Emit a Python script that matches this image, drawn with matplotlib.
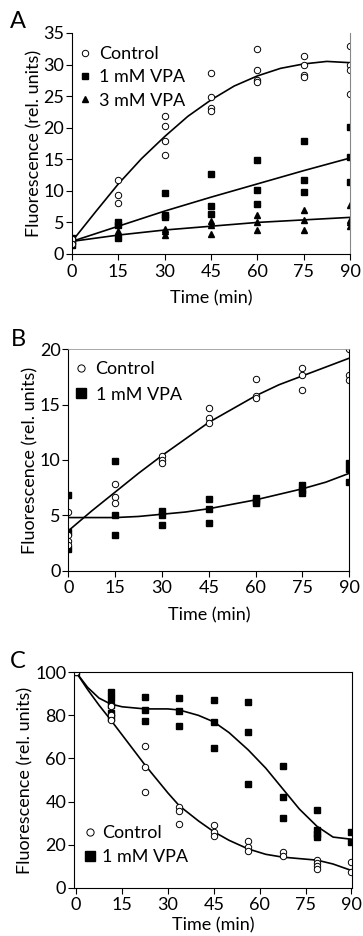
import matplotlib
matplotlib.use('Agg')
import matplotlib.pyplot as plt
from matplotlib.lines import Line2D
import numpy as np

plt.rcParams['font.family'] = ['Lato', 'DejaVu Sans']
plt.rcParams['font.size'] = 13

# ---------------- Panel A ----------------
a_ctrl_t = [0, 0, 0, 15, 15, 15, 30, 30, 30, 30, 45, 45, 45, 45, 60, 60, 60, 60, 75, 75, 75, 75, 90, 90, 90, 90]
a_ctrl_y = [2.0, 2.4, 1.6, 11.7, 9.3, 8.0, 21.9, 20.3, 17.9, 15.6, 28.6, 24.8, 23.1, 22.6,
            32.4, 29.1, 27.5, 27.2, 31.4, 29.9, 28.4, 28.0, 32.9, 30.0, 29.2, 25.3]
a_vpa1_t = [0, 0, 0, 15, 15, 15, 30, 30, 30, 45, 45, 45, 60, 60, 60, 75, 75, 75, 90, 90, 90]
a_vpa1_y = [2.6, 2.0, 1.4, 5.0, 4.6, 2.6, 9.7, 6.2, 5.8, 12.7, 7.6, 6.4, 14.9, 10.1, 7.9,
            17.9, 11.7, 9.8, 20.1, 15.3, 11.4]
a_vpa3_t = [0, 0, 15, 15, 30, 30, 30, 45, 45, 45, 60, 60, 60, 75, 75, 75, 90, 90, 90, 90]
a_vpa3_y = [2.2, 1.8, 3.6, 2.8, 4.0, 3.6, 3.0, 5.2, 4.6, 3.2, 6.2, 5.0, 3.8, 7.0, 5.4, 3.8,
            7.8, 5.4, 5.0, 4.5]

a_fit_ctrl_t = [0, 7.5, 15, 22.5, 30, 37.5, 45, 52.5, 60, 67.5, 75, 82.5, 90]
a_fit_ctrl_y = [2.0, 6.6, 11.1, 15.1, 18.6, 21.8, 24.4, 26.6, 28.2, 29.4, 30.1, 30.5, 30.3]
a_fit_vpa_t = [0, 15, 30, 45, 60, 75, 90]
a_fit_vpa1_y = [2.0, 4.4, 6.8, 9.0, 11.1, 13.2, 15.2]
a_fit_vpa3_y = [2.0, 3.0, 3.8, 4.4, 5.0, 5.4, 5.8]

# ---------------- Panel B ----------------
b_ctrl_t = [0, 0, 0, 0, 15, 15, 15, 30, 30, 30, 45, 45, 45, 60, 60, 60, 75, 75, 75, 90, 90, 90]
b_ctrl_y = [5.3, 3.2, 2.7, 2.3, 7.8, 6.7, 6.1, 10.4, 10.0, 9.7, 14.7, 13.8, 13.3,
            17.3, 15.8, 15.6, 18.3, 17.7, 16.3, 20.0, 17.7, 17.2]
b_vpa_t = [0, 0, 0, 15, 15, 15, 30, 30, 30, 45, 45, 45, 60, 60, 60, 75, 75, 75, 90, 90, 90]
b_vpa_y = [6.8, 3.5, 2.0, 9.9, 5.0, 3.2, 5.4, 5.0, 4.1, 6.5, 5.6, 4.3, 6.6, 6.3, 6.1,
           7.7, 7.3, 7.0, 9.7, 9.2, 8.0]

b_fit_ctrl_t = [0, 7.5, 15, 22.5, 30, 37.5, 45, 52.5, 60, 67.5, 75, 82.5, 90]
b_fit_ctrl_y = [3.6, 5.4, 7.1, 8.8, 10.4, 11.9, 13.4, 14.6, 15.8, 16.8, 17.6, 18.4, 19.2]
b_fit_vpa_t = [0, 7.5, 15, 22.5, 30, 37.5, 45, 52.5, 60, 67.5, 75, 82.5, 90]
b_fit_vpa_y = [4.8, 4.8, 4.8, 4.9, 5.1, 5.3, 5.6, 6.0, 6.4, 6.9, 7.4, 8.0, 8.8]

# ---------------- Panel C ----------------
c_ctrl_t = [0, 11.25, 11.25, 11.25, 22.5, 22.5, 22.5, 33.75, 33.75, 33.75, 45, 45, 45,
            56.25, 56.25, 56.25, 67.5, 67.5, 78.75, 78.75, 78.75, 78.75, 90, 90]
c_ctrl_y = [100, 84.5, 80, 78, 66, 56, 44.5, 37.5, 35.5, 29.5, 29, 26, 24,
            21.5, 19, 17, 16.5, 14.5, 13, 11.5, 10, 8.5, 12, 7.5]
c_vpa_t = [0, 11.25, 11.25, 11.25, 11.25, 11.25, 22.5, 22.5, 22.5, 33.75, 33.75, 33.75,
           45, 45, 45, 56.25, 56.25, 56.25, 67.5, 67.5, 67.5, 78.75, 78.75, 78.75, 78.75, 90, 90]
c_vpa_y = [100, 91, 88, 85, 81, 79, 88.5, 82.5, 77.5, 88, 82, 75,
           87, 77, 65, 86, 72.5, 48, 56.5, 42, 32.5, 36, 27, 25, 23.5, 26, 21]

c_fit_t = [0, 3.75, 7.5, 11.25, 15, 22.5, 30, 33.75, 40, 45, 50, 56.25, 62, 67.5, 73, 78.75, 84, 90]
c_fit_ctrl_y = [100, 92, 84.7, 78, 71, 57, 44, 38, 31, 26, 22, 18, 15.5, 14.2, 13.5, 12.8, 11, 8]
c_fit_vpa_y = [100, 93, 88, 85.3, 84, 83, 83, 82.5, 80, 77, 72, 64, 55.5, 46, 36.5, 28.5, 23.5, 22.5]

xticks = [0, 15, 30, 45, 60, 75, 90]

fig = plt.figure(figsize=(3.63, 9.36), dpi=100)
W, H = 363.0, 936.0


def make_ax(left, right, top, bottom):
    return fig.add_axes([left / W, 1 - bottom / H, (right - left) / W, (bottom - top) / H])


def style(ax, xpad=7.5):
    ax.set_xticks(xticks)
    ax.tick_params(direction='out', length=4, width=0.8, pad=1.5, labelsize=13)
    ax.tick_params(axis='x', pad=3)
    ax.set_xlabel('Time (min)', fontsize=13, labelpad=xpad)
    ax.set_ylabel('Fluorescence (rel. units)', fontsize=13, labelpad=1)
    for s in ax.spines.values():
        s.set_linewidth(0.8)


circ = dict(marker='o', mfc='white', mec='black', mew=0.7, ms=4.6, ls='none')
sq = dict(marker='s', color='black', ms=5.0, ls='none')
tri = dict(marker='^', color='black', ms=5.0, ls='none')
lw = 1.2

# Panel A
ax1 = make_ax(72, 350, 33, 254)
ax1.plot(a_fit_ctrl_t, a_fit_ctrl_y, color='k', lw=lw)
ax1.plot(a_fit_vpa_t, a_fit_vpa1_y, color='k', lw=lw)
ax1.plot(a_fit_vpa_t, a_fit_vpa3_y, color='k', lw=lw)
ax1.plot(a_vpa3_t, a_vpa3_y, **tri)
ax1.plot(a_vpa1_t, a_vpa1_y, **sq)
ax1.plot(a_ctrl_t, a_ctrl_y, **circ)
ax1.set_xlim(0, 90)
ax1.set_ylim(0, 35)
ax1.set_yticks(range(0, 36, 5))
style(ax1)
ax1.spines['top'].set_visible(False)
ax1.spines['right'].set_color('#888888')
h1 = [Line2D([], [], **circ), Line2D([], [], **sq), Line2D([], [], **tri)]
ax1.legend(h1, ['Control', '1 mM VPA', '3 mM VPA'], loc='upper left', bbox_to_anchor=(0.024, 0.94),
           frameon=False, borderaxespad=0, borderpad=0, handlelength=0.7, handletextpad=0.45,
           labelspacing=0.4, fontsize=13)

# Panel B
ax2 = make_ax(68.3, 349.3, 349.3, 570.7)
ax2.plot(b_fit_ctrl_t, b_fit_ctrl_y, color='k', lw=lw)
ax2.plot(b_fit_vpa_t, b_fit_vpa_y, color='k', lw=lw)
ax2.plot(b_vpa_t, b_vpa_y, **sq)
ax2.plot(b_ctrl_t, b_ctrl_y, **circ)
ax2.set_xlim(0, 90)
ax2.set_ylim(0, 20)
ax2.set_yticks(range(0, 21, 5))
style(ax2)
ax2.spines['top'].set_color('#999999')
ax2.spines['top'].set_linewidth(0.6)
h2 = [Line2D([], [], **dict(circ, ms=5.2)), Line2D([], [], **dict(sq, ms=6.5))]
ax2.legend(h2, ['Control', '1 mM VPA'], loc='upper left', bbox_to_anchor=(0.02, 0.945),
           frameon=False, borderaxespad=0, borderpad=0, handlelength=0.8, handletextpad=0.4,
           labelspacing=0.5, fontsize=13)

# Panel C
ax3 = make_ax(74, 352.3, 672.3, 887.7)
ax3.plot(c_fit_t, c_fit_vpa_y, color='k', lw=lw)
ax3.plot(c_fit_t, c_fit_ctrl_y, color='k', lw=lw)
ax3.plot(c_vpa_t, c_vpa_y, **sq)
ax3.plot(c_ctrl_t, c_ctrl_y, **circ)
ax3.set_xlim(-0.7, 90.3)
ax3.set_ylim(0, 100)
ax3.set_yticks(range(0, 101, 20))
style(ax3, xpad=3)
h3 = [Line2D([], [], **dict(circ, ms=5.2)), Line2D([], [], **dict(sq, ms=6.5))]
ax3.legend(h3, ['Control', '1 mM VPA'], loc='upper left', bbox_to_anchor=(0.03, 0.29),
           frameon=False, borderaxespad=0, borderpad=0, handlelength=0.8, handletextpad=0.3,
           labelspacing=0.45, fontsize=13)

for lab, y in [('A', 22), ('B', 340), ('C', 661)]:
    fig.text(18 / W, 1 - y / H, lab, fontsize=17, ha='center', va='center')

fig.savefig('out.png', dpi=100)
